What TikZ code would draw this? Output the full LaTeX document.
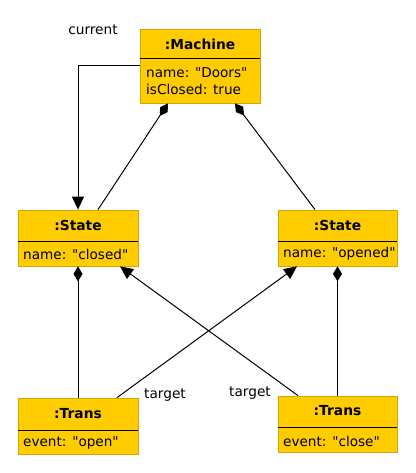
\documentclass[tikz,border=0pt]{standalone}
\usepackage{fontspec}
\newfontfamily\dv{DejaVu Sans}
\usetikzlibrary{arrows.meta}
\definecolor{boxfill}{HTML}{FFCC00}
\definecolor{boxline}{HTML}{D9A400}
\definecolor{shadowc}{HTML}{B08800}
\begin{document}
\begin{tikzpicture}[x=1pt,y=-1pt,
  box/.style={draw=boxline, fill=boxfill, line width=0.8pt, inner sep=0pt, minimum width=120pt},
  titletxt/.style={font=\dv\fontsize{13.8}{16}\selectfont\bfseries, inner sep=0pt},
  attrtxt/.style={font=\dv\fontsize{13.6}{16.5}\selectfont, inner sep=0pt, anchor=west, align=left},
  lbl/.style={font=\dv\fontsize{13.7}{15}\selectfont, inner sep=0pt},
  conn/.style={line width=1pt, black},
  comp/.style={conn, {Diamond[length=15pt,width=9pt]}-},
  nav/.style={conn, -{Triangle[length=13pt,width=12pt]}}]
\useasboundingbox (0,0) rectangle (415,473);
% shadows
\fill[shadowc] (141,30) rectangle (261,104);
\fill[shadowc] (19,211) rectangle (139,267);
\fill[shadowc] (279,211) rectangle (398,267);
\fill[shadowc] (19,399) rectangle (139,455);
\fill[shadowc] (279,397) rectangle (398,453);
% boxes
\node[box, minimum height=74pt] (m) at (200,66) {};
\node[box, minimum height=56pt] (sl) at (78,238) {};
\node[box, minimum width=119pt, minimum height=56pt] (sr) at (337.5,238) {};
\node[box, minimum height=56pt] (tl) at (78,426) {};
\node[box, minimum width=119pt, minimum height=56pt] (tr) at (337.5,424) {};
% dividers
\draw[line width=1pt] (140,59) -- (260,59);
\draw[line width=1pt] (18,241) -- (138,241);
\draw[line width=1pt] (278,241) -- (397,241);
\draw[line width=1pt] (18,430) -- (138,430);
\draw[line width=1pt] (278,427) -- (397,427);
% texts
\node[titletxt] (mt) at (200,44) {:Machine};
\node[attrtxt] (ma) at (146,81) {name: "Doors"\\isClosed: true};
\node[titletxt] (slt) at (78,225) {:State};
\node[attrtxt] (sla) at (23,254) {name: "closed"};
\node[titletxt] (srt) at (337.5,225) {:State};
\node[attrtxt] (sra) at (283,254) {name: "opened"};
\node[titletxt] (tlt) at (78,414) {:Trans};
\node[attrtxt] (tla) at (23,443) {event: "open"};
\node[titletxt] (trt) at (337.5,411) {:Trans};
\node[attrtxt] (tra) at (283,441) {event: "close"};
% connectors
\draw[nav] (m.west) -| (sl.north);
\draw[comp] (m.south -| 168,0) -- (sl.north -| 98,0);
\draw[comp] (m.south -| 235,0) -- (sr.north -| 315,0);
\draw[comp] (sl.south) -- (tl.north);
\draw[comp] (sr.south) -- (tr.north);
\draw[nav] (tl.north -| 117,0) -- (sr.south -| 297,0);
\draw[nav] (tr.north -| 298,0) -- (sl.south -| 120,0);
% labels
\node[lbl] (lc) at (93,30) {current};
\node[lbl] (lt1) at (165,395) {target};
\node[lbl] (lt2) at (250,393) {target};
\end{tikzpicture}
\end{document}
